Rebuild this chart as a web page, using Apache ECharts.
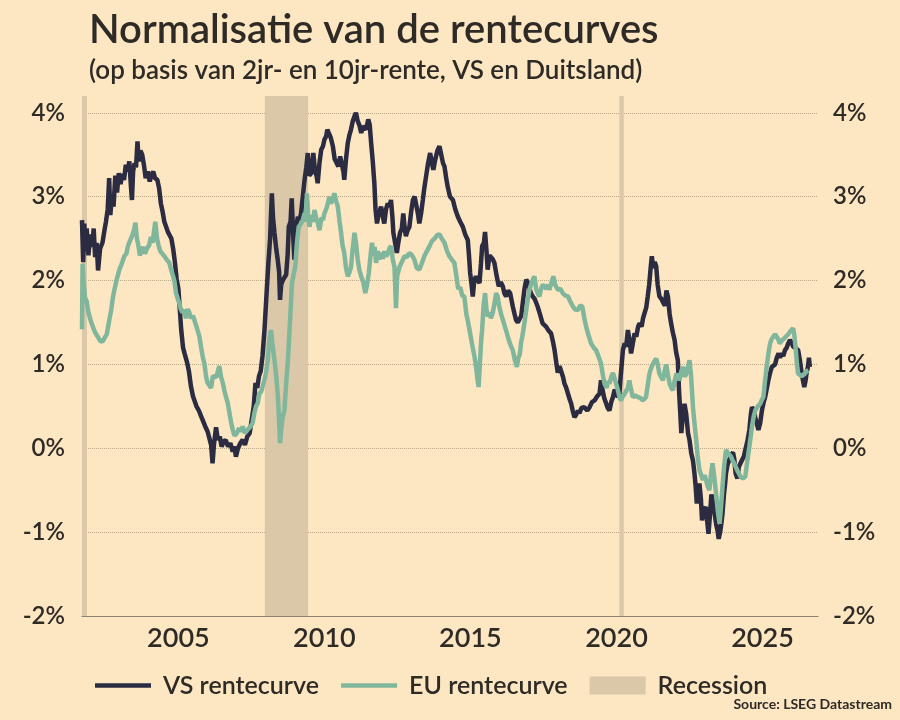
<!DOCTYPE html>
<html>
<head>
<meta charset="utf-8">
<script src="https://cdn.jsdelivr.net/npm/echarts@6/dist/echarts.min.js"></script>
<style>
  html, body { margin: 0; padding: 0; background: #fde6c2; }
  #chart { width: 900px; height: 720px; }
</style>
</head>
<body>
<div id="chart"></div>
<script>
// spread 10y - 2y, in % (decimal years)
var usYears = [
  2001.70, 2001.74, 2001.78, 2001.82, 2001.86, 2001.92, 2001.98, 2002.05, 2002.10, 2002.15,
  2002.20, 2002.25, 2002.32, 2002.40, 2002.47, 2002.52, 2002.58, 2002.63, 2002.67, 2002.72,
  2002.78, 2002.84, 2002.90, 2002.96, 2003.02, 2003.08, 2003.14, 2003.20, 2003.26, 2003.32,
  2003.38, 2003.41, 2003.45, 2003.50, 2003.55, 2003.60, 2003.64, 2003.70, 2003.76, 2003.82,
  2003.88, 2003.95, 2004.02, 2004.08, 2004.14, 2004.20, 2004.28, 2004.34, 2004.40, 2004.46,
  2004.52, 2004.58, 2004.64, 2004.70, 2004.76, 2004.82, 2004.88, 2004.94, 2005.00, 2005.06,
  2005.10, 2005.16, 2005.22, 2005.30, 2005.36, 2005.43, 2005.50, 2005.56, 2005.62, 2005.70,
  2005.78, 2005.85, 2005.92, 2006.00, 2006.06, 2006.12, 2006.17, 2006.22, 2006.29, 2006.35,
  2006.42, 2006.48, 2006.55, 2006.62, 2006.70, 2006.78, 2006.86, 2006.92, 2006.97, 2007.04,
  2007.12, 2007.20, 2007.28, 2007.36, 2007.44, 2007.52, 2007.58, 2007.64, 2007.70, 2007.76,
  2007.82, 2007.88, 2007.95, 2008.02, 2008.08, 2008.14, 2008.20, 2008.24, 2008.29, 2008.35,
  2008.40, 2008.45, 2008.48, 2008.52, 2008.57, 2008.63, 2008.69, 2008.74, 2008.78, 2008.84,
  2008.88, 2008.93, 2008.97, 2009.03, 2009.09, 2009.15, 2009.20, 2009.26, 2009.32, 2009.38,
  2009.43, 2009.48, 2009.55, 2009.62, 2009.68, 2009.73, 2009.77, 2009.83, 2009.89, 2009.95,
  2010.00, 2010.06, 2010.10, 2010.15, 2010.22, 2010.29, 2010.35, 2010.42, 2010.48, 2010.54,
  2010.60, 2010.65, 2010.68, 2010.74, 2010.80, 2010.86, 2010.91, 2010.97, 2011.03, 2011.08,
  2011.14, 2011.20, 2011.26, 2011.32, 2011.37, 2011.43, 2011.50, 2011.55, 2011.60, 2011.66,
  2011.71, 2011.75, 2011.80, 2011.86, 2011.94, 2012.00, 2012.05, 2012.11, 2012.17, 2012.22,
  2012.28, 2012.33, 2012.36, 2012.42, 2012.48, 2012.53, 2012.59, 2012.65, 2012.70, 2012.75,
  2012.79, 2012.85, 2012.91, 2012.97, 2013.03, 2013.09, 2013.14, 2013.20, 2013.25, 2013.31,
  2013.37, 2013.42, 2013.48, 2013.55, 2013.62, 2013.68, 2013.73, 2013.80, 2013.87, 2013.94,
  2014.00, 2014.06, 2014.11, 2014.17, 2014.22, 2014.30, 2014.40, 2014.48, 2014.57, 2014.65,
  2014.74, 2014.82, 2014.91, 2014.95, 2014.99, 2015.04, 2015.08, 2015.13, 2015.19, 2015.25,
  2015.31, 2015.36, 2015.40, 2015.46, 2015.50, 2015.55, 2015.59, 2015.65, 2015.71, 2015.77,
  2015.82, 2015.90, 2015.97, 2016.04, 2016.11, 2016.16, 2016.22, 2016.29, 2016.36, 2016.45,
  2016.51, 2016.56, 2016.62, 2016.68, 2016.74, 2016.79, 2016.85, 2016.91, 2016.96, 2017.00,
  2017.07, 2017.13, 2017.20, 2017.30, 2017.38, 2017.47, 2017.53, 2017.59, 2017.68, 2017.76,
  2017.82, 2017.88, 2017.94, 2017.99, 2018.05, 2018.11, 2018.17, 2018.22, 2018.28, 2018.34,
  2018.40, 2018.45, 2018.50, 2018.56, 2018.62, 2018.68, 2018.73, 2018.80, 2018.90, 2019.00,
  2019.08, 2019.16, 2019.25, 2019.34, 2019.42, 2019.47, 2019.52, 2019.58, 2019.65, 2019.70,
  2019.76, 2019.82, 2019.88, 2019.94, 2020.00, 2020.05, 2020.10, 2020.15, 2020.22, 2020.28,
  2020.33, 2020.39, 2020.44, 2020.50, 2020.56, 2020.62, 2020.68, 2020.74, 2020.79, 2020.86,
  2020.91, 2020.96, 2021.02, 2021.07, 2021.12, 2021.17, 2021.21, 2021.26, 2021.31, 2021.36,
  2021.41, 2021.47, 2021.54, 2021.61, 2021.66, 2021.71, 2021.76, 2021.82, 2021.87, 2021.93,
  2021.99, 2022.04, 2022.10, 2022.14, 2022.18, 2022.22, 2022.27, 2022.33, 2022.39, 2022.45,
  2022.50, 2022.56, 2022.62, 2022.67, 2022.71, 2022.75, 2022.80, 2022.84, 2022.89, 2022.93,
  2022.98, 2023.06, 2023.10, 2023.15, 2023.20, 2023.25, 2023.29, 2023.35, 2023.41, 2023.46,
  2023.50, 2023.55, 2023.59, 2023.63, 2023.68, 2023.72, 2023.75, 2023.80, 2023.86, 2023.92,
  2023.99, 2024.03, 2024.08, 2024.14, 2024.19, 2024.25, 2024.30, 2024.36, 2024.41, 2024.48,
  2024.55, 2024.60, 2024.64, 2024.70, 2024.75, 2024.80, 2024.86, 2024.92, 2024.98, 2025.04,
  2025.09, 2025.14, 2025.20, 2025.26, 2025.32, 2025.37, 2025.43, 2025.49, 2025.55, 2025.60,
  2025.66, 2025.71, 2025.77, 2025.83, 2025.88, 2025.94, 2026.00, 2026.05, 2026.12, 2026.18,
  2026.22, 2026.28, 2026.34, 2026.39, 2026.43, 2026.48, 2026.51, 2026.56, 2026.59, 2026.62
];
var usSpread = [
  2.72, 2.22, 2.68, 2.35, 2.62, 2.30, 2.55, 2.40, 2.62, 2.28,
  2.45, 2.12, 2.38, 2.45, 2.60, 2.70, 2.85, 3.22, 2.78, 3.00,
  2.88, 3.25, 3.05, 3.28, 3.15, 3.27, 3.20, 3.38, 3.30, 3.42,
  3.10, 2.96, 3.30, 3.40, 3.35, 3.66, 3.42, 3.55, 3.50, 3.38,
  3.22, 3.30, 3.18, 3.26, 3.30, 3.22, 3.20, 3.10, 2.92, 2.82,
  2.70, 2.64, 2.58, 2.54, 2.50, 2.38, 2.22, 2.02, 1.90, 1.60,
  1.40, 1.20, 1.12, 1.02, 0.92, 0.74, 0.62, 0.56, 0.50, 0.45,
  0.38, 0.32, 0.26, 0.20, 0.12, 0.04, -0.18, 0.05, 0.25, 0.10,
  0.14, 0.02, 0.08, 0.10, 0.02, 0.06, -0.04, 0.02, -0.10, 0.00,
  0.06, 0.10, 0.04, 0.14, 0.18, 0.36, 0.50, 0.78, 0.72, 0.86,
  0.92, 1.10, 1.42, 1.85, 2.20, 2.50, 3.04, 2.75, 2.57, 2.38,
  2.25, 2.10, 1.77, 1.95, 2.00, 2.02, 2.07, 2.30, 2.64, 2.70,
  2.98, 2.55, 2.25, 2.62, 2.76, 2.72, 2.80, 3.00, 3.20, 3.35,
  3.52, 3.25, 3.28, 3.52, 3.30, 3.25, 3.16, 3.40, 3.56, 3.60,
  3.68, 3.72, 3.80, 3.82, 3.70, 3.60, 3.45, 3.40, 3.36, 3.48,
  3.38, 3.30, 3.20, 3.45, 3.64, 3.74, 3.80, 3.90, 3.96, 4.00,
  3.90, 3.85, 3.76, 3.84, 3.84, 3.80, 3.92, 3.86, 3.64, 3.40,
  3.16, 2.85, 2.68, 2.80, 2.88, 2.76, 2.68, 2.85, 2.92, 2.88,
  2.96, 2.75, 2.57, 2.45, 2.33, 2.45, 2.57, 2.62, 2.80, 2.62,
  2.53, 2.60, 2.64, 2.82, 2.96, 3.00, 2.98, 2.80, 2.68, 2.80,
  2.96, 3.10, 3.24, 3.40, 3.52, 3.40, 3.32, 3.45, 3.55, 3.60,
  3.50, 3.40, 3.36, 3.22, 3.12, 3.00, 2.96, 2.85, 2.76, 2.70,
  2.64, 2.55, 2.48, 2.30, 2.09, 1.95, 1.81, 2.00, 2.05, 2.00,
  1.97, 2.20, 2.41, 2.45, 2.58, 2.35, 2.13, 2.30, 2.29, 2.25,
  2.21, 2.05, 1.93, 1.98, 1.93, 1.85, 1.81, 1.88, 1.85, 1.69,
  1.60, 1.53, 1.50, 1.49, 1.58, 1.73, 1.90, 2.01, 1.98, 1.97,
  1.85, 1.81, 1.78, 1.69, 1.60, 1.49, 1.48, 1.45, 1.40, 1.37,
  1.28, 1.17, 1.02, 0.90, 0.98, 0.97, 0.85, 0.77, 0.72, 0.65,
  0.58, 0.53, 0.45, 0.37, 0.40, 0.45, 0.42, 0.48, 0.49, 0.45,
  0.49, 0.55, 0.57, 0.62, 0.65, 0.81, 0.70, 0.60, 0.53, 0.48,
  0.45, 0.55, 0.61, 0.70, 0.69, 0.61, 0.65, 0.88, 1.17, 1.25,
  1.21, 1.41, 1.30, 1.13, 1.25, 1.37, 1.33, 1.45, 1.49, 1.45,
  1.55, 1.57, 1.68, 1.81, 1.95, 2.15, 2.29, 2.15, 2.22, 2.17,
  1.95, 1.81, 1.78, 1.73, 1.70, 1.88, 1.81, 1.60, 1.49, 1.38,
  1.29, 1.15, 1.05, 0.70, 0.45, 0.18, 0.38, 0.53, 0.40, 0.18,
  0.10, -0.06, -0.15, -0.30, -0.45, -0.66, -0.50, -0.42, -0.60, -0.86,
  -0.75, -0.70, -0.85, -1.02, -0.80, -0.55, -0.62, -0.75, -0.90, -0.98,
  -1.08, -1.00, -0.90, -0.78, -0.55, -0.42, -0.30, -0.20, -0.14, -0.08,
  -0.05, -0.12, -0.30, -0.36, -0.22, -0.24, -0.14, -0.10, -0.02, 0.08,
  0.22, 0.40, 0.49, 0.45, 0.37, 0.30, 0.22, 0.30, 0.45, 0.55,
  0.61, 0.70, 0.81, 0.90, 0.97, 0.95, 1.00, 1.08, 1.13, 1.08,
  1.13, 1.10, 1.17, 1.20, 1.25, 1.29, 1.26, 1.21, 1.20, 1.22,
  1.17, 1.05, 0.90, 0.80, 0.73, 0.82, 0.90, 0.98, 1.08, 0.97
];

var euYears = [
  2001.70, 2001.72, 2001.76, 2001.80, 2001.86, 2001.92, 2002.00, 2002.07, 2002.15, 2002.24,
  2002.32, 2002.40, 2002.48, 2002.55, 2002.62, 2002.70, 2002.76, 2002.81, 2002.88, 2002.94,
  2002.98, 2003.06, 2003.15, 2003.22, 2003.28, 2003.34, 2003.40, 2003.48, 2003.53, 2003.58,
  2003.64, 2003.68, 2003.72, 2003.80, 2003.86, 2003.92, 2004.00, 2004.06, 2004.12, 2004.17,
  2004.21, 2004.27, 2004.32, 2004.38, 2004.45, 2004.52, 2004.60, 2004.69, 2004.76, 2004.82,
  2004.86, 2004.92, 2004.98, 2005.03, 2005.08, 2005.14, 2005.20, 2005.26, 2005.32, 2005.38,
  2005.44, 2005.50, 2005.55, 2005.62, 2005.68, 2005.72, 2005.78, 2005.84, 2005.89, 2005.95,
  2006.00, 2006.06, 2006.12, 2006.18, 2006.23, 2006.30, 2006.36, 2006.40, 2006.46, 2006.52,
  2006.58, 2006.64, 2006.69, 2006.75, 2006.80, 2006.86, 2006.92, 2007.00, 2007.08, 2007.14,
  2007.20, 2007.28, 2007.37, 2007.45, 2007.54, 2007.60, 2007.66, 2007.72, 2007.77, 2007.84,
  2007.89, 2007.95, 2008.00, 2008.06, 2008.12, 2008.17, 2008.22, 2008.29, 2008.34, 2008.40,
  2008.44, 2008.48, 2008.52, 2008.57, 2008.63, 2008.69, 2008.75, 2008.80, 2008.85, 2008.89,
  2008.95, 2009.00, 2009.06, 2009.12, 2009.20, 2009.26, 2009.32, 2009.36, 2009.40, 2009.44,
  2009.49, 2009.55, 2009.61, 2009.66, 2009.72, 2009.78, 2009.83, 2009.90, 2009.95, 2010.00,
  2010.06, 2010.12, 2010.17, 2010.22, 2010.28, 2010.34, 2010.40, 2010.46, 2010.52, 2010.57,
  2010.62, 2010.68, 2010.74, 2010.80, 2010.86, 2010.91, 2010.96, 2011.03, 2011.08, 2011.14,
  2011.20, 2011.26, 2011.33, 2011.40, 2011.46, 2011.52, 2011.58, 2011.63, 2011.68, 2011.72,
  2011.77, 2011.83, 2011.88, 2011.94, 2012.00, 2012.05, 2012.11, 2012.17, 2012.22, 2012.28,
  2012.34, 2012.40, 2012.45, 2012.49, 2012.57, 2012.65, 2012.74, 2012.82, 2012.91, 2013.00,
  2013.08, 2013.16, 2013.25, 2013.33, 2013.42, 2013.51, 2013.60, 2013.68, 2013.77, 2013.86,
  2013.94, 2014.02, 2014.11, 2014.20, 2014.28, 2014.36, 2014.45, 2014.52, 2014.58, 2014.65,
  2014.72, 2014.79, 2014.86, 2014.92, 2014.97, 2015.05, 2015.14, 2015.20, 2015.25, 2015.28,
  2015.33, 2015.37, 2015.40, 2015.45, 2015.50, 2015.55, 2015.60, 2015.65, 2015.70, 2015.76,
  2015.82, 2015.88, 2015.93, 2015.98, 2016.05, 2016.11, 2016.18, 2016.24, 2016.28, 2016.35,
  2016.41, 2016.45, 2016.52, 2016.59, 2016.64, 2016.69, 2016.73, 2016.80, 2016.88, 2016.95,
  2017.02, 2017.10, 2017.19, 2017.25, 2017.30, 2017.36, 2017.42, 2017.48, 2017.53, 2017.60,
  2017.66, 2017.70, 2017.78, 2017.84, 2017.90, 2017.99, 2018.08, 2018.16, 2018.25, 2018.34,
  2018.42, 2018.51, 2018.60, 2018.68, 2018.76, 2018.83, 2018.90, 2018.96, 2019.04, 2019.13,
  2019.22, 2019.30, 2019.38, 2019.47, 2019.53, 2019.59, 2019.66, 2019.72, 2019.76, 2019.82,
  2019.88, 2019.93, 2019.98, 2020.05, 2020.10, 2020.15, 2020.22, 2020.28, 2020.33, 2020.39,
  2020.44, 2020.50, 2020.56, 2020.64, 2020.73, 2020.82, 2020.90, 2020.96, 2021.01, 2021.07,
  2021.13, 2021.18, 2021.24, 2021.30, 2021.36, 2021.41, 2021.47, 2021.53, 2021.59, 2021.65,
  2021.70, 2021.76, 2021.82, 2021.88, 2021.93, 2021.99, 2022.05, 2022.10, 2022.16, 2022.22,
  2022.28, 2022.34, 2022.39, 2022.44, 2022.50, 2022.55, 2022.62, 2022.67, 2022.73, 2022.78,
  2022.84, 2022.90, 2022.96, 2023.02, 2023.06, 2023.12, 2023.18, 2023.24, 2023.29, 2023.35,
  2023.41, 2023.47, 2023.53, 2023.58, 2023.63, 2023.69, 2023.75, 2023.80, 2023.86, 2023.92,
  2023.97, 2024.03, 2024.08, 2024.16, 2024.25, 2024.33, 2024.41, 2024.48, 2024.55, 2024.60,
  2024.64, 2024.70, 2024.75, 2024.84, 2024.92, 2024.98, 2025.03, 2025.08, 2025.14, 2025.20,
  2025.26, 2025.31, 2025.37, 2025.43, 2025.48, 2025.54, 2025.59, 2025.65, 2025.71, 2025.77,
  2025.82, 2025.88, 2025.94, 2026.00, 2026.05, 2026.09, 2026.13, 2026.18, 2026.22, 2026.28,
  2026.34, 2026.40, 2026.45, 2026.51, 2026.57
];
var euSpread = [
  1.42, 2.20, 1.95, 1.80, 1.75, 1.62, 1.52, 1.45, 1.38, 1.33,
  1.28, 1.27, 1.32, 1.36, 1.50, 1.65, 1.80, 1.89, 2.00, 2.08,
  2.13, 2.20, 2.29, 2.32, 2.42, 2.40, 2.52, 2.60, 2.69, 2.50,
  2.40, 2.30, 2.28, 2.40, 2.32, 2.38, 2.42, 2.52, 2.45, 2.60,
  2.70, 2.50, 2.42, 2.35, 2.32, 2.29, 2.25, 2.21, 2.12, 2.05,
  2.00, 1.85, 1.78, 1.73, 1.66, 1.62, 1.65, 1.55, 1.66, 1.61,
  1.55, 1.58, 1.57, 1.45, 1.38, 1.33, 1.20, 1.08, 1.01, 0.85,
  0.78, 0.78, 0.72, 0.86, 0.86, 0.85, 0.93, 0.98, 0.85, 0.78,
  0.68, 0.60, 0.54, 0.42, 0.32, 0.22, 0.15, 0.18, 0.24, 0.20,
  0.26, 0.18, 0.22, 0.25, 0.30, 0.42, 0.50, 0.54, 0.65, 0.68,
  0.70, 0.82, 0.90, 1.05, 1.30, 1.41, 1.25, 1.05, 0.90, 0.65,
  0.40, 0.06, 0.22, 0.37, 0.45, 0.77, 1.05, 1.37, 1.70, 1.97,
  2.08, 2.16, 2.45, 2.64, 2.68, 2.72, 2.80, 2.70, 3.04, 2.80,
  2.64, 2.78, 2.70, 2.84, 2.74, 2.68, 2.60, 2.75, 2.72, 2.80,
  2.85, 2.92, 3.00, 2.92, 2.96, 3.04, 2.95, 2.88, 2.70, 2.57,
  2.42, 2.33, 2.15, 2.05, 2.10, 2.16, 2.35, 2.57, 2.45, 2.25,
  2.12, 2.05, 1.98, 1.85, 1.95, 2.09, 2.30, 2.45, 2.30, 2.40,
  2.21, 2.35, 2.25, 2.33, 2.26, 2.35, 2.29, 2.32, 2.38, 2.41,
  2.25, 2.16, 1.67, 2.05, 2.16, 2.22, 2.29, 2.28, 2.33, 2.30,
  2.25, 2.15, 2.13, 2.20, 2.29, 2.35, 2.41, 2.47, 2.50, 2.54,
  2.55, 2.50, 2.45, 2.35, 2.29, 2.25, 2.21, 2.05, 1.90, 1.92,
  1.82, 1.81, 1.60, 1.50, 1.41, 1.25, 1.09, 0.95, 0.80, 0.73,
  1.05, 1.30, 1.41, 1.70, 1.85, 1.65, 1.57, 1.62, 1.55, 1.61,
  1.72, 1.85, 1.81, 1.70, 1.60, 1.53, 1.45, 1.38, 1.33, 1.25,
  1.20, 1.17, 1.05, 0.97, 1.08, 1.12, 1.25, 1.38, 1.57, 1.75,
  1.89, 1.98, 2.05, 1.90, 1.85, 1.81, 1.90, 1.95, 1.97, 1.90,
  1.95, 1.89, 1.98, 2.05, 1.95, 1.89, 1.90, 1.85, 1.82, 1.81,
  1.75, 1.69, 1.65, 1.65, 1.70, 1.69, 1.55, 1.45, 1.35, 1.25,
  1.20, 1.17, 1.10, 1.01, 0.88, 0.77, 0.72, 0.80, 0.77, 0.85,
  0.90, 0.89, 0.78, 0.69, 0.61, 0.57, 0.62, 0.65, 0.65, 0.72,
  0.81, 0.70, 0.61, 0.63, 0.61, 0.60, 0.57, 0.58, 0.61, 0.75,
  0.89, 0.95, 1.00, 1.02, 1.07, 1.00, 0.89, 0.85, 0.81, 0.92,
  1.00, 0.88, 0.77, 0.72, 0.69, 0.80, 0.89, 0.85, 0.81, 0.92,
  0.97, 0.85, 0.89, 0.95, 1.05, 0.88, 0.49, 0.30, 0.10, -0.10,
  -0.26, -0.32, -0.38, -0.32, -0.30, -0.45, -0.50, -0.30, -0.18, -0.35,
  -0.54, -0.75, -0.90, -0.70, -0.46, -0.20, -0.02, -0.05, -0.06, -0.10,
  -0.14, -0.18, -0.22, -0.28, -0.34, -0.36, -0.34, -0.15, 0.02, 0.15,
  0.26, 0.38, 0.45, 0.50, 0.53, 0.58, 0.61, 0.78, 0.97, 1.12,
  1.25, 1.30, 1.33, 1.36, 1.37, 1.30, 1.25, 1.28, 1.29, 1.32,
  1.33, 1.36, 1.39, 1.41, 1.43, 1.35, 1.21, 1.00, 0.89, 0.90,
  0.86, 0.88, 0.89, 0.92, 0.93
];

// US recessions (NBER), decimal years
var recessionStart = [2001.70, 2007.96, 2020.10];
var recessionEnd = [2001.87, 2009.44, 2020.25];

var yTicks = [-2, -1, 0, 1, 2, 3, 4];

function pairs(xs, ys) {
  var out = [];
  for (var i = 0; i < xs.length; i++) out.push([xs[i], ys[i]]);
  return out;
}

var recessionAreas = [];
for (var r = 0; r < recessionStart.length; r++) {
  recessionAreas.push([{ xAxis: recessionStart[r] }, { xAxis: recessionEnd[r] }]);
}

var ink = '#2e2a26';
var font = 'Lato';
var usColor = '#2b2b42';
var euColor = '#80b79c';
var recColor = '#dac8a8';
// thin bar used as legend key for the two curves
var barIcon = 'path://M0,0H56V4.5H0Z';

function pctLabel(v) {
  return yTicks.indexOf(Math.round(v * 1000) / 1000) >= 0 ? v + '%' : '';
}

var yAxisBase = {
  type: 'value',
  min: -2,
  max: 4.2,
  interval: 1,
  axisLine: { show: false },
  axisTick: { show: false }
};

var myChart = echarts.init(document.getElementById('chart'));
var option = {
  backgroundColor: '#fde6c2',
  animation: false,
  textStyle: { fontFamily: font },
  title: [{
    text: 'Normalisatie van de rentecurves',
    subtext: '(op basis van 2jr- en 10jr-rente, VS en Duitsland)',
    left: 84,
    top: 5,
    itemGap: 8,
    textStyle: { fontFamily: font, fontSize: 40, fontWeight: 600, color: ink },
    subtextStyle: { fontFamily: font, fontSize: 26, fontWeight: 600, color: ink }
  }, {
    text: 'Source: LSEG Datastream',
    right: 3,
    bottom: 4,
    textStyle: { fontFamily: font, fontSize: 14, fontWeight: 700, color: ink }
  }],
  legend: {
    left: 90,
    top: 668,
    itemWidth: 56,
    itemHeight: 18,
    itemGap: 22,
    symbolKeepAspect: true,
    textStyle: { fontFamily: font, fontSize: 25, fontWeight: 600, color: ink, padding: [0, 0, 0, 7] },
    data: [
      { name: 'VS rentecurve', icon: barIcon },
      { name: 'EU rentecurve', icon: barIcon },
      { name: 'Recession', icon: 'rect', itemStyle: { color: recColor } }
    ]
  },
  grid: { left: 82, right: 82, top: 96, bottom: 104 },
  xAxis: {
    type: 'value',
    min: 2001.7,
    max: 2026.9,
    interval: 0.1,
    axisLine: { onZero: false, lineStyle: { color: '#8c8172', width: 1.2 } },
    axisTick: { show: false },
    splitLine: { show: false },
    axisLabel: {
      margin: 9,
      fontFamily: font,
      fontSize: 27,
      fontWeight: 600,
      color: ink,
      formatter: function (v) {
        var y = Math.round(v);
        return (Math.abs(v - y) < 1e-6 && y % 5 === 0) ? String(y) : '';
      }
    }
  },
  yAxis: [
    Object.assign({}, yAxisBase, {
      position: 'left',
      axisLabel: { margin: 17, fontFamily: font, fontSize: 24, fontWeight: 600, color: ink, formatter: pctLabel },
      splitLine: {
        show: true,
        showMaxLine: false,
        lineStyle: { color: '#b9a888', type: 'dotted', width: 1 }
      }
    }),
    Object.assign({}, yAxisBase, {
      position: 'right',
      axisLabel: { margin: 15, fontFamily: font, fontSize: 24, fontWeight: 600, color: ink, formatter: pctLabel },
      splitLine: { show: false }
    })
  ],
  series: [{
    name: 'Recession',
    type: 'line',
    data: [],
    markArea: {
      silent: true,
      itemStyle: { color: recColor },
      data: recessionAreas
    }
  }, {
    name: 'VS rentecurve',
    type: 'line',
    showSymbol: false,
    symbol: 'none',
    color: usColor,
    lineStyle: { width: 4.5, color: usColor },
    data: pairs(usYears, usSpread),
    z: 3
  }, {
    name: 'EU rentecurve',
    type: 'line',
    showSymbol: false,
    symbol: 'none',
    color: euColor,
    lineStyle: { width: 4.5, color: euColor },
    data: pairs(euYears, euSpread),
    z: 4
  }]
};
myChart.setOption(option, true);
</script>
</body>
</html>
